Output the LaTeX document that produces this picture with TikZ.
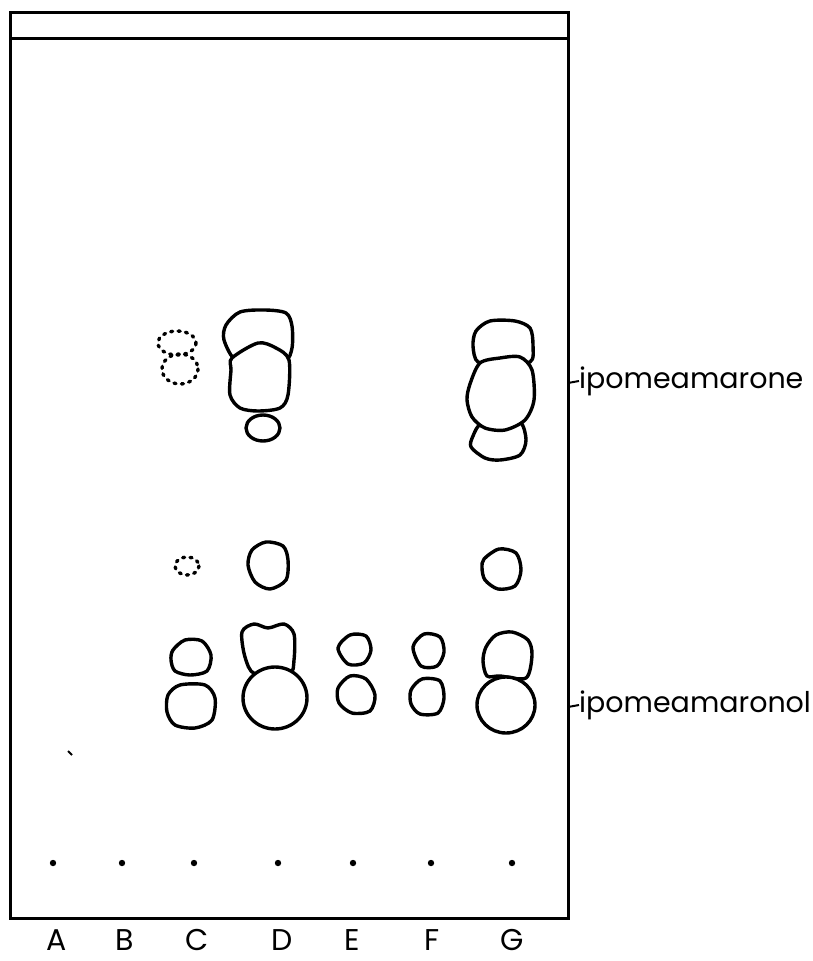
\documentclass[tikz,border=0pt]{standalone}
\usepackage{fontspec}
\setmainfont{Poppins}
\usetikzlibrary{positioning}

\begin{document}
\begin{tikzpicture}[x=1pt,y=-1pt,
  spot/.style={draw,line width=3.4pt,line join=round},
  faint/.style={draw,line width=3.4pt,line cap=round,dash pattern=on 2pt off 5.5pt},
  lanename/.style={font=\fontsize{30}{30}\selectfont,inner sep=0pt},
  compound/.style={font=\fontsize{28.5}{28.5}\selectfont,inner sep=0pt,anchor=west}]
\useasboundingbox (0,0) rectangle (813,961);
% plate
\draw[line width=3pt] (10,12) rectangle (568,918);
\draw[line width=3pt] (10,38) -- (568,38);
\draw[line width=2pt] (68,751) -- (72,755);
% origin dots and lane names
\foreach \x/\lx/\name in {53/57/A,122/125/B,194/197/C,278/282/D,353/352/E,431/432/F,512/512/G}{
  \fill (\x,863) circle (3.2pt);
  \node[lanename] (lane\name) at (\lx,940) {\name};
}
% lane C
\draw[faint] (177,343) ellipse (19 and 12);
\draw[faint] (180,369) ellipse (18 and 15);
\draw[faint] (187,566) ellipse (12 and 9);
\draw[spot] plot[smooth cycle] coordinates {(173,650) (185,640) (202,641) (211,655) (207,671) (190,675) (175,671) (171,660)};
\draw[spot] plot[smooth cycle] coordinates {(168,695) (180,685) (205,685) (215,698) (212,720) (195,728) (175,725) (167,712)};
% lane D
\draw[spot] plot[smooth cycle] coordinates {(226,325) (240,312) (265,310) (286,313) (292,326) (292,348) (285,360) (258,350) (236,360) (224,340)};
\draw[spot,fill=white] plot[smooth cycle] coordinates {(232,358) (258,343) (276,348) (289,360) (288,395) (280,408) (258,411) (240,408) (230,395) (231,370)};
\draw[spot] (263,428) ellipse (17 and 13);
\draw[spot] plot[smooth cycle] coordinates {(252,550) (266,542) (283,546) (288,560) (286,580) (270,589) (255,582) (248,565)};
\draw[spot] plot[smooth cycle] coordinates {(242,632) (254,624) (268,628) (284,624) (294,634) (294,660) (289,674) (255,674) (245,657)};
\draw[spot,fill=white] (275,698) ellipse (32 and 31);
% lane E
\draw[spot] plot[smooth cycle] coordinates {(338,648) (350,635) (366,636) (371,650) (364,663) (348,664)};
\draw[spot] plot[smooth cycle] coordinates {(338,688) (350,676) (366,679) (375,695) (370,711) (352,713) (339,703)};
% lane F
\draw[spot] plot[smooth cycle] coordinates {(413,647) (424,634) (440,637) (444,652) (437,666) (421,666)};
\draw[spot] plot[smooth cycle] coordinates {(411,690) (422,679) (440,681) (444,698) (438,713) (420,714) (411,704)};
% lane G
\draw[spot] plot[smooth cycle] coordinates {(476,331) (490,321) (515,321) (530,328) (533,345) (530,362) (500,360) (478,362) (473,346)};
\draw[spot] plot[smooth cycle] coordinates {(473,436) (481,424) (500,428) (520,422) (526,440) (520,455) (500,460) (485,458) (471,447)};
\draw[spot,fill=white] plot[smooth cycle] coordinates {(470,384) (480,363) (500,358) (520,357) (532,370) (534,400) (525,420) (505,430) (485,428) (472,417) (467,400)};
\draw[spot] plot[smooth cycle] coordinates {(484,559) (499,549) (516,553) (521,570) (515,586) (498,589) (485,580) (482,568)};
\draw[spot] plot[smooth cycle] coordinates {(486,647) (496,635) (512,632) (528,640) (532,655) (526,678) (500,676) (487,676) (483,661)};
\draw[spot,fill=white] (506,705) ellipse (29 and 28);
% compound labels
\coordinate (tone) at (568,383);
\coordinate (tonol) at (568,707);
\node[compound] (marone) at (579,381) {ipomeamarone};
\node[compound] (maronol) at (579,705) {ipomeamaronol};
\draw[line width=2pt] (tone) -- (marone.west);
\draw[line width=2pt] (tonol) -- (maronol.west);
\end{tikzpicture}
\end{document}
